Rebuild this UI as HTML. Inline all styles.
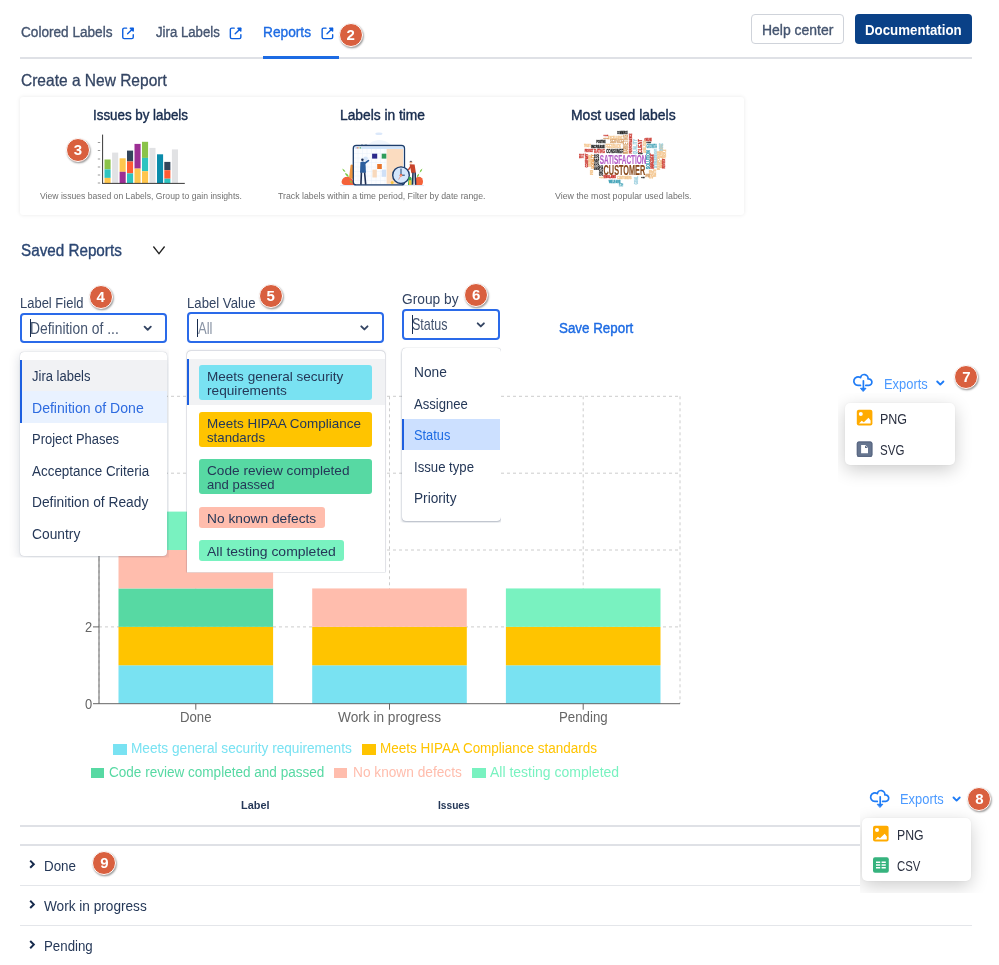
<!DOCTYPE html>
<html lang="en"><head><meta charset="utf-8"><title>Reports</title>
<style>
html,body{margin:0;padding:0;background:#fff}
body{width:999px;height:965px;position:relative;overflow:hidden;font-family:"Liberation Sans",sans-serif}
.a{position:absolute}
.t{position:absolute;white-space:pre;line-height:1;transform-origin:0 50%;display:inline-block}
.badge{position:absolute;width:22px;height:22px;border-radius:50%;background:#d9603f;border:1.6px solid #fff;box-shadow:.8px 1.2px 1.8px rgba(0,0,0,.38);color:#fff;font-weight:700;font-size:15px;line-height:22px;text-align:center;margin:-12.6px 0 0 -12.6px}
.sel{position:absolute;box-sizing:border-box;border:2px solid #2a6ae9;border-radius:4px;background:#fff}
.dd{position:absolute;background:#fff;border-radius:4px;box-shadow:0 0 1px rgba(9,30,66,.35),0 4px 8px -2px rgba(9,30,66,.25)}
.chip{position:absolute;border-radius:3px}
.hl{position:absolute;background:#dfe1e6}

</style></head>
<body>
<!-- tabs -->
<div class="hl" style="left:20px;top:56.5px;width:952px;height:2px"></div>
<div class="a" style="left:263px;top:56px;width:76px;height:3px;background:#1d6be3"></div>
<div class="a" style="left:751px;top:14px;width:93px;height:30px;box-sizing:border-box;border:1px solid #cfd3da;border-radius:4px"></div>
<div class="a" style="left:855px;top:14px;width:117px;height:30px;border-radius:4px;background:#0a4187"></div>
<!-- cards -->
<div class="a" style="left:20px;top:96.5px;width:724px;height:118px;background:#fff;border-radius:3px;box-shadow:0 0 4px rgba(0,0,0,.09)"></div>
<svg class="a" style="left:90px;top:130px" width="110" height="60" viewBox="90 130 110 60">
<rect x="104.5" y="159.5" width="6.1" height="9.9" fill="#8bc34a"/>
<rect x="104.5" y="169.4" width="6.1" height="8.5" fill="#2ec4c0"/>
<rect x="104.5" y="177.9" width="6.1" height="5.3" fill="#ffc64d"/>
<rect x="112.1" y="152.6" width="6.1" height="30.6" fill="#e1e2e4"/>
<rect x="119.6" y="158.3" width="6.1" height="13.5" fill="#ffc64d"/>
<rect x="119.6" y="171.8" width="6.1" height="11.4" fill="#9c2f94"/>
<rect x="127.0" y="150.6" width="6.1" height="10.9" fill="#33445a"/>
<rect x="127.0" y="161.5" width="6.1" height="11.9" fill="#ff5b33"/>
<rect x="127.0" y="173.4" width="6.1" height="9.8" fill="#2ec4c0"/>
<rect x="134.5" y="143.9" width="6.1" height="24.7" fill="#9c2f94"/>
<rect x="134.5" y="168.6" width="6.1" height="14.6" fill="#ffc64d"/>
<rect x="142.0" y="141.8" width="6.1" height="16.1" fill="#8bc34a"/>
<rect x="142.0" y="157.9" width="6.1" height="13.3" fill="#2ec4c0"/>
<rect x="142.0" y="171.2" width="6.1" height="12.0" fill="#ffc64d"/>
<rect x="149.4" y="147.9" width="6.1" height="35.3" fill="#e1e2e4"/>
<rect x="157.0" y="154.3" width="6.1" height="28.9" fill="#0a8cab"/>
<rect x="164.3" y="161.9" width="6.1" height="8.3" fill="#33445a"/>
<rect x="164.3" y="170.2" width="6.1" height="8.5" fill="#ff5b33"/>
<rect x="164.3" y="178.7" width="6.1" height="4.5" fill="#2ec4c0"/>
<rect x="171.9" y="149.4" width="6.1" height="33.8" fill="#e1e2e4"/>
<path d="M102.6 134.6V183.5M102.2 183.4H184.8" stroke="#222" stroke-width="0.9" fill="none"/>
<rect x="97.8" y="182.5" width="2.4" height="1" fill="#999"/>
<rect x="97.8" y="174.5" width="2.4" height="1" fill="#999"/>
<rect x="97.8" y="166.5" width="2.4" height="1" fill="#999"/>
<rect x="97.8" y="158.5" width="2.4" height="1" fill="#999"/>
<rect x="97.8" y="150.0" width="2.4" height="1" fill="#999"/>
<rect x="97.8" y="142.0" width="2.4" height="1" fill="#999"/>
</svg>
<svg class="a" style="left:330px;top:128px" width="110" height="62" viewBox="330 128 110 62">
<ellipse cx="378.9" cy="133.8" rx="3.6" ry="1.2" fill="#dbe8fa"/>
<path d="M366 146Q379 134 393 146Z" fill="#f1f6fd"/>
<path d="M340 185.6H424" stroke="#dfe8f6" stroke-width="1"/>
<!-- left foliage -->
<path d="M341.6 181.5Q342.5 176.5 348 176.8Q353.5 177.5 354 185H345Q341.5 184.6 341.6 181.5Z" fill="#f4623a"/>
<path d="M349 178L350.6 165Q352 163.6 353.6 165.5V179Z" fill="#f0963e"/>
<path d="M342.2 168.4Q345 169.4 345.6 172.2Q342.8 171.6 342.2 168.4ZM345 173Q348.2 173.6 348.8 177Q345.6 176.2 345 173ZM349.5 180Q352 180.6 352.5 183.6Q349.9 183 349.5 180Z" fill="#7ac943"/>
<!-- right foliage -->
<path d="M416 178Q419 175.6 422 178.2Q424 181.5 422 185H415Z" fill="#f4623a"/>
<path d="M422.4 168.6Q422.2 171.6 419.6 172.8Q419.6 169.8 422.4 168.6ZM419.2 173.4Q419.2 176.2 416.8 177.4Q416.6 174.6 419.2 173.4Z" fill="#7ac943"/>
<!-- tablet -->
<rect x="353.3" y="145.5" width="51.2" height="39.4" rx="3" fill="#fcfdff" stroke="#1d3d6b" stroke-width="1.3"/>
<path d="M361 145.2h2.2M364.6 145.2h2.6" stroke="#1d3d6b" stroke-width="1"/>
<rect x="386.6" y="148.8" width="16.4" height="35" fill="#fbdcc0"/>
<rect x="354.6" y="146.6" width="48.6" height="2.3" fill="#cfe4fb"/>
<circle cx="357.2" cy="147.8" r=".6" fill="#e8452f"/><circle cx="358.8" cy="147.8" r=".6" fill="#f5b82e"/><circle cx="360.4" cy="147.8" r=".6" fill="#3fae49"/>
<path d="M358 149V184M362.5 149V184M367 149V184M371.5 149V184M376 149V184M380.5 149V184M385 149V184M354 153.5H386M354 158H386M354 162.5H386M354 167H386M354 171.5H386M354 176H386M354 180.5H386" stroke="#e9f0fa" stroke-width=".5"/>
<rect x="372.1" y="153.7" width="5.1" height="4.9" fill="#2b2a8c"/>
<rect x="381.7" y="153.7" width="4.6" height="4.9" fill="#2e9d5b"/>
<rect x="377.2" y="164" width="4.6" height="5" fill="#e8742a"/>
<rect x="372.5" y="169.6" width="4.3" height="7.9" fill="#f8d9bc"/>
<rect x="381.7" y="169.6" width="4.4" height="7.2" fill="#cfe0f7"/>
<!-- person left -->
<circle cx="365.6" cy="158.6" r="2.2" fill="#d6e6fa"/>
<path d="M364.8 163.2L368.4 160.6" stroke="#2d5f9e" stroke-width="1.7" stroke-linecap="round"/>
<path d="M360.4 162.2Q362.8 160.6 365.4 162.2L366 172.8H360Z" fill="#2d5f9e"/>
<circle cx="362.4" cy="159.8" r="1.25" fill="#1d2f55"/>
<path d="M361.4 172.5L360.9 184.6M364.6 172.5L365.7 184.6" stroke="#1d2f55" stroke-width="1.6"/>
<!-- clock -->
<circle cx="401" cy="175.2" r="8.3" fill="#d4e6fc" stroke="#1d3d6b" stroke-width="1.4"/>
<path d="M401 175.2V168.6M401 175.2H404.8" stroke="#1d3d6b" stroke-width="1"/>
<path d="M401 175.2L398.6 179.6" stroke="#f4623a" stroke-width=".5"/>
<circle cx="401" cy="175.2" r="1.3" fill="#f4623a"/><circle cx="401" cy="175.2" r=".5" fill="#fff"/>
<circle cx="392.2" cy="182.6" r="1.5" fill="#f6c543"/>
<!-- person right -->
<path d="M408.6 177.5Q410 176 411.6 178V185H408Z" fill="#3fae49"/>
<path d="M409 180.5Q410.4 179.5 411.4 181V185H409Z" fill="#f6c543"/>
<path d="M409.6 164.2L414.6 164.6L415.9 172.8L411.4 173.2Z" fill="#c8432b"/>
<path d="M411 166L408.6 169.6" stroke="#c8432b" stroke-width="1.5" stroke-linecap="round"/>
<circle cx="410.9" cy="162.3" r="1.3" fill="#e8b48e"/><path d="M409.5 161.8Q410.8 160 412.4 161.6Z" fill="#1d2f55"/>
<path d="M413 172.6L412.6 184.8M415.1 172.6L415.6 184.8" stroke="#1d2f55" stroke-width="1.6"/>
</svg>

<svg class="a" style="left:570px;top:128px" width="110" height="62" viewBox="570 128 110 62" font-family="Liberation Sans, sans-serif" font-weight="700">
<text x="599.7" y="164.0" font-size="12.72" textLength="46.8" lengthAdjust="spacingAndGlyphs" fill="#b45cc6" stroke="#b45cc6" stroke-width="0.12">SATISFACTION</text>
<text x="603.6" y="175.1" font-size="14.54" textLength="41.6" lengthAdjust="spacingAndGlyphs" fill="#8a4a1c" stroke="#8a4a1c" stroke-width="0.12">CUSTOMER</text>
<text x="606.2" y="153.0" font-size="5.45" textLength="17.6" lengthAdjust="spacingAndGlyphs" fill="#222" stroke="#222" stroke-width="0.3">CONSUMER</text>
<text x="594.1" y="153.0" font-size="5.45" textLength="10.8" lengthAdjust="spacingAndGlyphs" fill="#c9332b" stroke="#c9332b" stroke-width="0.3">RATING</text>
<text x="605.5" y="148.2" font-size="5.45" textLength="15.6" lengthAdjust="spacingAndGlyphs" fill="#f3c48c" stroke="#f3c48c" stroke-width="0.3">FEEDBACK</text>
<text x="610.1" y="143.2" font-size="5.45" textLength="13.0" lengthAdjust="spacingAndGlyphs" fill="#d6a06a" stroke="#d6a06a" stroke-width="0.3">SERVICE</text>
<text x="608.1" y="138.5" font-size="4.00" textLength="14.3" lengthAdjust="spacingAndGlyphs" fill="#f3c48c" stroke="#f3c48c" stroke-width="0.3">EXCELLENT</text>
<text x="617.3" y="134.1" font-size="2.73" textLength="10.4" lengthAdjust="spacingAndGlyphs" fill="#222" stroke="#222" stroke-width="0.3">COMMERCE</text>
<text x="596.4" y="143.2" font-size="2.73" textLength="9.1" lengthAdjust="spacingAndGlyphs" fill="#222" stroke="#222" stroke-width="0.3">POSITIVE</text>
<text x="591.2" y="147.9" font-size="2.91" textLength="13.7" lengthAdjust="spacingAndGlyphs" fill="#222" stroke="#222" stroke-width="0.3">INCREASE</text>
<text x="584.7" y="151.7" font-size="2.73" textLength="8.5" lengthAdjust="spacingAndGlyphs" fill="#c9332b" stroke="#c9332b" stroke-width="0.3">PRODUCT</text>
<text x="584.1" y="147.4" font-size="3.09" textLength="6.5" lengthAdjust="spacingAndGlyphs" fill="#f3c48c" stroke="#f3c48c" stroke-width="0.3">TRUST</text>
<text x="603.6" y="135.9" font-size="2.54" textLength="4.6" lengthAdjust="spacingAndGlyphs" fill="#c9332b" stroke="#c9332b" stroke-width="0.3">VALUE</text>
<text x="603.6" y="139.1" font-size="2.36" textLength="5.2" lengthAdjust="spacingAndGlyphs" fill="#d6a06a" stroke="#d6a06a" stroke-width="0.3">SUPPORT</text>
<text transform="translate(628.3 154.3) rotate(-90)" font-size="6.36" textLength="19.5" lengthAdjust="spacingAndGlyphs" fill="#d6a06a" stroke="#d6a06a" stroke-width="0.3">MARKETING</text>
<text transform="translate(631.8 153.6) rotate(-90)" font-size="4.00" textLength="20.2" lengthAdjust="spacingAndGlyphs" fill="#c9332b" stroke="#c9332b" stroke-width="0.3">PERFORMANCE</text>
<text transform="translate(636.8 154.3) rotate(-90)" font-size="5.09" textLength="15.0" lengthAdjust="spacingAndGlyphs" fill="#9fd0df" stroke="#9fd0df" stroke-width="0.3">QUALITY</text>
<text transform="translate(642.0 153.0) rotate(-90)" font-size="6.00" textLength="13.7" lengthAdjust="spacingAndGlyphs" fill="#c9332b" stroke="#c9332b" stroke-width="0.3">CLIENT</text>
<text x="638.1" y="154.1" font-size="2.18" textLength="4.6" lengthAdjust="spacingAndGlyphs" fill="#222" stroke="#222" stroke-width="0.3">SURVEY</text>
<text transform="translate(599.0 169.9) rotate(-90)" font-size="6.36" textLength="15.6" lengthAdjust="spacingAndGlyphs" fill="#222" stroke="#222" stroke-width="0.3">BUSINESS</text>
<text transform="translate(594.1 168.6) rotate(-90)" font-size="4.00" textLength="14.3" lengthAdjust="spacingAndGlyphs" fill="#e89a4a" stroke="#e89a4a" stroke-width="0.3">LOYALTY</text>
<text transform="translate(591.0 166.6) rotate(-90)" font-size="3.63" textLength="11.7" lengthAdjust="spacingAndGlyphs" fill="#f3c48c" stroke="#f3c48c" stroke-width="0.3">RESEARCH</text>
<text transform="translate(588.0 167.3) rotate(-90)" font-size="3.63" textLength="13.7" lengthAdjust="spacingAndGlyphs" fill="#c9332b" stroke="#c9332b" stroke-width="0.3">COMPANY</text>
<text x="578.9" y="158.2" font-size="4.91" textLength="5.2" lengthAdjust="spacingAndGlyphs" fill="#c9332b" stroke="#c9332b" stroke-width="0.3">BEST</text>
<text transform="translate(602.9 175.7) rotate(-90)" font-size="5.45" textLength="10.4" lengthAdjust="spacingAndGlyphs" fill="#222" stroke="#222" stroke-width="0.3">SUCCESS</text>
<text transform="translate(592.5 175.1) rotate(-90)" font-size="3.27" textLength="5.2" lengthAdjust="spacingAndGlyphs" fill="#f3c48c" stroke="#f3c48c" stroke-width="0.3">OPINION</text>
<text transform="translate(650.0 169.2) rotate(-90)" font-size="4.91" textLength="18.9" lengthAdjust="spacingAndGlyphs" fill="#3a9fb5" stroke="#3a9fb5" stroke-width="0.3">SOLUTION</text>
<text transform="translate(653.9 168.6) rotate(-90)" font-size="4.54" textLength="15.0" lengthAdjust="spacingAndGlyphs" fill="#c9332b" stroke="#c9332b" stroke-width="0.3">MANAGEMENT</text>
<text transform="translate(656.9 167.9) rotate(-90)" font-size="3.45" textLength="18.9" lengthAdjust="spacingAndGlyphs" fill="#9fd0df" stroke="#9fd0df" stroke-width="0.3">STRATEGY</text>
<text transform="translate(659.9 169.9) rotate(-90)" font-size="3.63" textLength="18.9" lengthAdjust="spacingAndGlyphs" fill="#f3c48c" stroke="#f3c48c" stroke-width="0.3">RESPONSE</text>
<text transform="translate(662.5 167.9) rotate(-90)" font-size="3.27" textLength="23.4" lengthAdjust="spacingAndGlyphs" fill="#f3c48c" stroke="#f3c48c" stroke-width="0.3">RELATION</text>
<text transform="translate(665.4 168.6) rotate(-90)" font-size="3.63" textLength="9.8" lengthAdjust="spacingAndGlyphs" fill="#c9332b" stroke="#c9332b" stroke-width="0.3">REVIEW</text>
<text transform="translate(666.4 158.2) rotate(-90)" font-size="3.27" textLength="8.5" lengthAdjust="spacingAndGlyphs" fill="#f3c48c" stroke="#f3c48c" stroke-width="0.3">PEOPLE</text>
<text x="646.5" y="147.8" font-size="5.45" textLength="10.4" lengthAdjust="spacingAndGlyphs" fill="#3a9fb5" stroke="#3a9fb5" stroke-width="0.3">GROWTH</text>
<text x="644.6" y="140.6" font-size="2.73" textLength="7.2" lengthAdjust="spacingAndGlyphs" fill="#c9332b" stroke="#c9332b" stroke-width="0.3">ONLINE</text>
<text x="646.5" y="143.0" font-size="2.36" textLength="4.6" lengthAdjust="spacingAndGlyphs" fill="#222" stroke="#222" stroke-width="0.3">MARKET</text>
<text transform="translate(646.1 153.0) rotate(-90)" font-size="4.00" textLength="12.4" lengthAdjust="spacingAndGlyphs" fill="#f3c48c" stroke="#f3c48c" stroke-width="0.3">ANALYSIS</text>
<text transform="translate(663.4 151.0) rotate(-90)" font-size="4.54" textLength="7.8" lengthAdjust="spacingAndGlyphs" fill="#9fd0df" stroke="#9fd0df" stroke-width="0.3">SATISFIED</text>
<text x="603.6" y="178.4" font-size="2.73" textLength="12.4" lengthAdjust="spacingAndGlyphs" fill="#c9332b" stroke="#c9332b" stroke-width="0.3">ENGLAND</text>
<text x="617.3" y="178.6" font-size="3.09" textLength="14.3" lengthAdjust="spacingAndGlyphs" fill="#f3c48c" stroke="#f3c48c" stroke-width="0.3">CUSTOMERS</text>
<text x="608.8" y="182.6" font-size="2.73" textLength="11.7" lengthAdjust="spacingAndGlyphs" fill="#3a9fb5" stroke="#3a9fb5" stroke-width="0.3">WELFARE</text>
<text transform="translate(638.1 184.2) rotate(-90)" font-size="4.54" textLength="7.8" lengthAdjust="spacingAndGlyphs" fill="#9fd0df" stroke="#9fd0df" stroke-width="0.3">GOAL</text>
<text transform="translate(623.1 186.2) rotate(-90)" font-size="5.45" textLength="3.3" lengthAdjust="spacingAndGlyphs" fill="#3a9fb5" stroke="#3a9fb5" stroke-width="0.3">HELP</text>
<text transform="translate(653.0 178.4) rotate(-90)" font-size="4.54" textLength="8.5" lengthAdjust="spacingAndGlyphs" fill="#f3c48c" stroke="#f3c48c" stroke-width="0.3">SHOP</text>
<text transform="translate(656.3 177.0) rotate(-90)" font-size="3.63" textLength="7.8" lengthAdjust="spacingAndGlyphs" fill="#f3c48c" stroke="#f3c48c" stroke-width="0.3">RATE</text>
<text x="645.2" y="177.0" font-size="2.73" textLength="4.6" lengthAdjust="spacingAndGlyphs" fill="#d6a06a" stroke="#d6a06a" stroke-width="0.3">OFFER</text>
<text x="641.3" y="177.7" font-size="2.36" textLength="3.3" lengthAdjust="spacingAndGlyphs" fill="#222" stroke="#222" stroke-width="0.3">CARE</text>
<text x="599.0" y="178.1" font-size="2.36" textLength="4.6" lengthAdjust="spacingAndGlyphs" fill="#f3c48c" stroke="#f3c48c" stroke-width="0.3">SALES</text>
</svg>
<!-- chart -->
<svg class="a" style="left:0;top:380px" width="720" height="340" viewBox="0 380 720 340">
<path d="M99.0 626.9H680.0 M99.0 550.0H680.0 M99.0 473.2H680.0 M99.0 396.3H680.0 M99.0 396.3V703.7 M195.8 396.3V703.7 M389.5 396.3V703.7 M583.2 396.3V703.7 M680.0 396.3V703.7" stroke="#ccc" stroke-width="1" stroke-dasharray="3 3" fill="none"/>
<rect x="118.5" y="665.28" width="154.6" height="38.42" fill="#79e2f2"/>
<rect x="118.5" y="626.86" width="154.6" height="38.42" fill="#ffc400"/>
<rect x="118.5" y="588.44" width="154.6" height="38.42" fill="#57d9a3"/>
<rect x="118.5" y="550.02" width="154.6" height="38.42" fill="#ffbdad"/>
<rect x="118.5" y="511.60" width="154.6" height="38.42" fill="#79f2c0"/>
<rect x="312.2" y="665.28" width="154.6" height="38.42" fill="#79e2f2"/>
<rect x="312.2" y="626.86" width="154.6" height="38.42" fill="#ffc400"/>
<rect x="312.2" y="588.44" width="154.6" height="38.42" fill="#ffbdad"/>
<rect x="505.9" y="665.28" width="154.6" height="38.42" fill="#79e2f2"/>
<rect x="505.9" y="626.86" width="154.6" height="38.42" fill="#ffc400"/>
<rect x="505.9" y="588.44" width="154.6" height="38.42" fill="#79f2c0"/>
<path d="M99.0 396.3V703.7 M99.0 703.7H680.0 M195.8 703.7v6 M389.5 703.7v6 M583.2 703.7v6 M93.0 703.7h6 M93.0 626.9h6" stroke="#666" stroke-width="1" fill="none"/>
</svg>
<div class="a" style="left:113px;top:744.3px;width:13.7px;height:10.4px;background:#79e2f2"></div>
<div class="a" style="left:362.3px;top:744.3px;width:13.7px;height:10.4px;background:#ffc400"></div>
<div class="a" style="left:90.5px;top:767.8px;width:13.7px;height:10.4px;background:#57d9a3"></div>
<div class="a" style="left:333.8px;top:767.8px;width:13.7px;height:10.4px;background:#ffbdad"></div>
<div class="a" style="left:472.2px;top:767.8px;width:13.7px;height:10.4px;background:#79f2c0"></div>
<!-- table lines -->
<div class="hl" style="left:20px;top:824.5px;width:952px;height:2px"></div>
<div class="hl" style="left:20px;top:843.5px;width:952px;height:2px"></div>
<div class="hl" style="left:20px;top:884.5px;width:952px;height:1px;background:#e4e6ea"></div>
<div class="hl" style="left:20px;top:924.5px;width:952px;height:1px;background:#e4e6ea"></div>
<!-- selects -->
<div class="sel" style="left:20px;top:312.5px;width:147px;height:30.5px"></div>
<div class="sel" style="left:187px;top:312px;width:196.5px;height:30.5px"></div>
<div class="sel" style="left:402px;top:309px;width:98px;height:30.5px"></div>
<div class="a" style="left:29.6px;top:318.7px;width:1.2px;height:18.5px;background:#172b4d"></div>
<div class="a" style="left:197px;top:318.5px;width:1.2px;height:18.5px;background:#172b4d"></div>
<div class="a" style="left:412px;top:315px;width:1.2px;height:18.5px;background:#172b4d"></div>
<!-- dropdown 1 -->
<div class="dd" style="left:20px;top:351.5px;width:147px;height:204.5px;box-shadow:0 0 1px rgba(9,30,66,.35),0 3px 12px rgba(9,30,66,.17);clip-path:inset(-3px -2px -1.5px -12px)"></div>
<div class="a" style="left:20px;top:359.5px;width:147px;height:31.8px;background:#f1f2f4"></div>
<div class="a" style="left:20px;top:391.3px;width:147px;height:31.3px;background:#e9f2ff"></div>
<div class="a" style="left:20px;top:359.5px;width:2px;height:63px;background:#1d5fe0"></div>
<!-- dropdown 2 -->
<div class="a" style="left:187px;top:350.5px;width:197.5px;height:222px;background:#fff;border-radius:4px 4px 0 0;box-shadow:0 0 0 1px rgba(9,30,66,.07),0 0 1px rgba(9,30,66,.3),0 -1px 3px rgba(9,30,66,.08);clip-path:inset(-6px -6px 0 -6px)"></div>
<div class="a" style="left:187px;top:359.2px;width:197.5px;height:46.2px;background:#f1f2f4"></div>
<div class="a" style="left:187px;top:359.2px;width:2px;height:46.2px;background:#1d5fe0"></div>
<div class="chip" style="left:198.7px;top:364.9px;width:173.3px;height:34.8px;background:#79e2f2"></div>
<div class="chip" style="left:198.7px;top:412.2px;width:173.3px;height:34.8px;background:#ffc400"></div>
<div class="chip" style="left:198.7px;top:459.4px;width:173.3px;height:34.8px;background:#57d9a3"></div>
<div class="chip" style="left:198.7px;top:506.7px;width:126.1px;height:21.1px;background:#ffbdad"></div>
<div class="chip" style="left:198.7px;top:540.3px;width:145.4px;height:21.1px;background:#79f2c0"></div>
<!-- dropdown 3 -->
<div class="dd" style="left:402px;top:347.5px;width:98.5px;height:173px;box-shadow:0 0 1px rgba(9,30,66,.4),0 2px 3px rgba(9,30,66,.25);clip-path:inset(-2px -.5px -2px -2px)"></div>
<div class="a" style="left:402px;top:418.8px;width:98px;height:31px;background:#cce0ff"></div>
<div class="a" style="left:402px;top:418.8px;width:2px;height:31px;background:#1d5fe0"></div>
<!-- exports 7 -->
<div class="a" style="left:838px;top:393px;width:137px;height:102px;overflow:hidden">
  <div class="a" style="left:7px;top:9.5px;width:109.5px;height:62.5px;border-radius:5px;background:#fff;box-shadow:0 5px 18px rgba(0,0,0,.2),0 0 2px rgba(0,0,0,.06)"></div>
</div>
<!-- exports 8 -->
<div class="a" style="left:860px;top:806px;width:130px;height:87px;overflow:hidden;background:#fff">
  <div class="a" style="left:1.5px;top:12px;width:109.5px;height:62.5px;border-radius:5px;background:#fff;box-shadow:0 5px 18px rgba(0,0,0,.2),0 0 2px rgba(0,0,0,.06)"></div>
</div>
<svg class="a" style="left:0;top:0" width="999" height="965" viewBox="0 0 999 965" fill="none">
<defs>
<g id="ext" stroke="#0c5fdf" stroke-width="1.4" stroke-linecap="round" stroke-linejoin="round" fill="none"><path d="M4.6 .75H2.2A1.45 1.45 0 0 0 .75 2.2V9.8A1.45 1.45 0 0 0 2.2 11.25H9.8A1.45 1.45 0 0 0 11.25 9.8V7.4"/><path d="M5.6 6.4L11 1"/><path d="M8.3 .8H11.2V3.7Z" fill="#0c5fdf"/></g>
<g id="chev" stroke-width="1.9" stroke-linecap="round" stroke-linejoin="round" fill="none"><path d="M.9 .9L4 4L7.1 .9"/></g>
<g id="cloud" stroke="#1f7cf6" stroke-width="1.7" stroke-linecap="round" stroke-linejoin="round" fill="none"><path d="M7.5 11.6H5.1A4.25 4.25 0 1 1 7.53 3.87A3.8 3.8 0 0 1 15.02 5.17A3.25 3.25 0 1 1 15.9 11.6H12.8"/><path d="M10.4 7V14.6"/><path d="M7.8 14.5H13L10.4 17.4Z" fill="#1f7cf6" stroke-width="1"/></g>
<g id="png"><rect width="15.6" height="15.8" rx="2" fill="#ffab00"/><circle cx="4" cy="4.2" r="2" fill="#fff"/><path d="M2.2 13.8L4.9 11L7 12.4L11.7 8L13.8 10.6V13.8Z" fill="#fff"/></g>
<g id="svgi"><rect width="15.6" height="15.4" rx="2" fill="#66758f"/><rect x=".6" y=".6" width="14.4" height="14.2" rx="1.6" fill="none" stroke="#5a6883" stroke-width="1.2"/><path d="M4.3 3.6H8.6L11.2 6.2V11.7H4.3Z" fill="#fff"/><path d="M8.2 3.9V6.6H11Z" fill="#5a6883"/></g>
<g id="csv"><rect width="15.8" height="15.4" rx="2" fill="#36b37e"/><path d="M3 4.9H7.2M8.6 4.9H12.8M3 7.7H7.2M8.6 7.7H12.8M3 10.5H7.2M8.6 10.5H12.8" stroke="#fff" stroke-width="1.5"/></g>
</defs>
<use href="#ext" x="122" y="27.4"/><use href="#ext" x="229.6" y="27.4"/><use href="#ext" x="321.4" y="27.4"/>
<path d="M153.4 246.5L159 253.6L164.6 246.5" stroke="#222" stroke-width="1.3" fill="none"/>
<use href="#chev" x="143.7" y="325.8" stroke="#344563"/><use href="#chev" x="360.4" y="325.4" stroke="#344563"/><use href="#chev" x="476.8" y="322.4" stroke="#344563"/>
<use href="#cloud" x="853" y="373.8"/><use href="#chev" x="936.3" y="380.6" stroke="#1f7cf6"/>
<use href="#cloud" x="869.8" y="789.8"/><use href="#chev" x="952.6" y="796.6" stroke="#1f7cf6"/>
<use href="#png" x="856.8" y="409.8"/><use href="#svgi" x="856.8" y="441.5"/>
<use href="#png" x="873" y="825.8"/><use href="#csv" x="873" y="857.3"/>
<g stroke="#172b4d" stroke-width="2" fill="none" stroke-linecap="butt" stroke-linejoin="miter"><path d="M30.2 860.6L33.8 864.2L30.2 867.8"/><path d="M30.2 900.8L33.8 904.4L30.2 908"/><path d="M30.2 941L33.8 944.6L30.2 948.2"/></g>
</svg>

<span class="t" style="left:20.50px;top:25.00px;font-size:14px;color:#44546f;transform:scaleX(0.9716);-webkit-text-stroke:0.35px #44546f">Colored Labels</span>
<span class="t" style="left:155.50px;top:25.00px;font-size:14px;color:#44546f;transform:scaleX(0.9416);-webkit-text-stroke:0.35px #44546f">Jira Labels</span>
<span class="t" style="left:263.25px;top:25.00px;font-size:14px;color:#1d6be3;transform:scaleX(0.9790);-webkit-text-stroke:0.35px #1d6be3">Reports</span>
<span class="t" style="left:762.00px;top:23.00px;font-size:14px;color:#44546f;transform:scaleX(0.9959);-webkit-text-stroke:0.35px #44546f">Help center</span>
<span class="t" style="left:865.00px;top:23.00px;font-size:14px;color:#ffffff;transform:scaleX(0.9491);font-weight:700">Documentation</span>
<span class="t" style="left:20.50px;top:72.00px;font-size:16.5px;color:#344563;transform:scaleX(0.9403);-webkit-text-stroke:0.3px #344563">Create a New Report</span>
<span class="t" style="left:93.00px;top:108.00px;font-size:14px;color:#172b4d;transform:scaleX(0.9537);-webkit-text-stroke:0.4px #172b4d">Issues by labels</span>
<span class="t" style="left:339.50px;top:108.00px;font-size:14px;color:#172b4d;transform:scaleX(0.9839);-webkit-text-stroke:0.4px #172b4d">Labels in time</span>
<span class="t" style="left:571.00px;top:108.00px;font-size:14px;color:#172b4d;transform:scaleX(0.9965);-webkit-text-stroke:0.4px #172b4d">Most used labels</span>
<span class="t" style="left:40.00px;top:192.00px;font-size:9px;color:#707070;transform:scaleX(0.9575)">View issues based on Labels, Group to gain insights.</span>
<span class="t" style="left:278.00px;top:192.00px;font-size:9px;color:#707070;transform:scaleX(0.9730)">Track labels within a time period, Filter by date range.</span>
<span class="t" style="left:554.90px;top:192.00px;font-size:9px;color:#707070;transform:scaleX(0.9790)">View the most popular used labels.</span>
<span class="t" style="left:20.50px;top:243.00px;font-size:16px;color:#2b4672;transform:scaleX(0.9519);-webkit-text-stroke:0.35px #2b4672">Saved Reports</span>
<span class="t" style="left:20.00px;top:296.00px;font-size:14px;color:#344563;transform:scaleX(0.9270)">Label Field</span>
<span class="t" style="left:187.00px;top:296.00px;font-size:14px;color:#344563;transform:scaleX(0.9394)">Label Value</span>
<span class="t" style="left:402.10px;top:292.00px;font-size:14px;color:#344563;transform:scaleX(0.9827)">Group by</span>
<span class="t" style="left:30.00px;top:321.00px;font-size:15.7px;color:#44546f;transform:scaleX(0.8850)">Definition of ...</span>
<span class="t" style="left:197.50px;top:321.00px;font-size:15.7px;color:#8993a4;transform:scaleX(0.8315)">All</span>
<span class="t" style="left:412.40px;top:317.00px;font-size:15.7px;color:#44546f;transform:scaleX(0.8003)">Status</span>
<span class="t" style="left:559.00px;top:321.00px;font-size:14px;color:#1d6be3;transform:scaleX(0.9547);-webkit-text-stroke:0.4px #1d6be3">Save Report</span>
<span class="t" style="left:31.50px;top:369.00px;font-size:14px;color:#253858;transform:scaleX(0.9281)">Jira labels</span>
<span class="t" style="left:31.50px;top:401.00px;font-size:14px;color:#2d6be0;transform:scaleX(1.0036)">Definition of Done</span>
<span class="t" style="left:31.50px;top:432.00px;font-size:14px;color:#253858;transform:scaleX(0.9249)">Project Phases</span>
<span class="t" style="left:31.50px;top:464.00px;font-size:14px;color:#253858;transform:scaleX(0.9593)">Acceptance Criteria</span>
<span class="t" style="left:31.50px;top:495.00px;font-size:14px;color:#253858;transform:scaleX(0.9831)">Definition of Ready</span>
<span class="t" style="left:31.50px;top:527.00px;font-size:14px;color:#253858;transform:scaleX(0.9851)">Country</span>
<span class="t" style="left:207.20px;top:370.00px;font-size:13.3px;color:#253858;transform:scaleX(1.0181)">Meets general security</span>
<span class="t" style="left:207.20px;top:384.00px;font-size:13.3px;color:#253858;transform:scaleX(1.0282)">requirements</span>
<span class="t" style="left:207.20px;top:417.00px;font-size:13.3px;color:#253858;transform:scaleX(1.0125)">Meets HIPAA Compliance</span>
<span class="t" style="left:207.20px;top:431.00px;font-size:13.3px;color:#253858;transform:scaleX(0.9948)">standards</span>
<span class="t" style="left:207.20px;top:464.00px;font-size:13.3px;color:#253858;transform:scaleX(1.0255)">Code review completed</span>
<span class="t" style="left:207.20px;top:478.00px;font-size:13.3px;color:#253858;transform:scaleX(0.9830)">and passed</span>
<span class="t" style="left:207.20px;top:512.00px;font-size:13.3px;color:#253858;transform:scaleX(1.0331)">No known defects</span>
<span class="t" style="left:207.20px;top:545.00px;font-size:13.3px;color:#253858;transform:scaleX(1.0497)">All testing completed</span>
<span class="t" style="left:414.30px;top:365.00px;font-size:14px;color:#253858;transform:scaleX(0.9800)">None</span>
<span class="t" style="left:414.30px;top:397.00px;font-size:14px;color:#253858;transform:scaleX(0.9341)">Assignee</span>
<span class="t" style="left:414.30px;top:428.00px;font-size:14px;color:#1d6be3;transform:scaleX(0.9143)">Status</span>
<span class="t" style="left:414.30px;top:460.00px;font-size:14px;color:#253858;transform:scaleX(0.9400)">Issue type</span>
<span class="t" style="left:414.30px;top:491.00px;font-size:14px;color:#253858;transform:scaleX(0.9756)">Priority</span>
<span class="t" style="left:883.80px;top:377.00px;font-size:14px;color:#4c9aff;transform:scaleX(0.9227)">Exports</span>
<span class="t" style="left:880.40px;top:412.00px;font-size:14px;color:#2a3040;transform:scaleX(0.8931)">PNG</span>
<span class="t" style="left:880.40px;top:443.00px;font-size:14px;color:#2a3040;transform:scaleX(0.8249)">SVG</span>
<span class="t" style="left:900.20px;top:792.00px;font-size:14px;color:#4c9aff;transform:scaleX(0.9206)">Exports</span>
<span class="t" style="left:897.00px;top:828.00px;font-size:14px;color:#2a3040;transform:scaleX(0.8766)">PNG</span>
<span class="t" style="left:897.00px;top:859.00px;font-size:14px;color:#2a3040;transform:scaleX(0.8126)">CSV</span>
<span class="t" style="left:180.00px;top:710.00px;font-size:14px;color:#666666;transform:scaleX(0.9412)">Done</span>
<span class="t" style="left:338.00px;top:710.00px;font-size:14px;color:#666666;transform:scaleX(0.9757)">Work in progress</span>
<span class="t" style="left:558.70px;top:710.00px;font-size:14px;color:#666666;transform:scaleX(0.9476)">Pending</span>
<span class="t" style="left:84.50px;top:697.00px;font-size:14px;color:#666666;transform:scaleX(0.9234)">0</span>
<span class="t" style="left:84.50px;top:620.00px;font-size:14px;color:#666666;transform:scaleX(0.9234)">2</span>
<span class="t" style="left:131.00px;top:741.00px;font-size:14px;color:#79e2f2;transform:scaleX(0.9751)">Meets general security requirements</span>
<span class="t" style="left:379.60px;top:741.00px;font-size:14px;color:#ffc400;transform:scaleX(0.9627)">Meets HIPAA Compliance standards</span>
<span class="t" style="left:108.50px;top:765.00px;font-size:14px;color:#57d9a3;transform:scaleX(0.9673)">Code review completed and passed</span>
<span class="t" style="left:352.60px;top:765.00px;font-size:14px;color:#ffbdad;transform:scaleX(0.9776)">No known defects</span>
<span class="t" style="left:489.50px;top:765.00px;font-size:14px;color:#79f2c0;transform:scaleX(0.9993)">All testing completed</span>
<span class="t" style="left:241.30px;top:800.00px;font-size:11px;color:#253858;transform:scaleX(0.9918);font-weight:700">Label</span>
<span class="t" style="left:438.00px;top:800.00px;font-size:11px;color:#253858;transform:scaleX(0.9255);font-weight:700">Issues</span>
<span class="t" style="left:44.25px;top:859.00px;font-size:14px;color:#253858;transform:scaleX(0.9561)">Done</span>
<span class="t" style="left:44.25px;top:899.00px;font-size:14px;color:#253858;transform:scaleX(0.9734)">Work in progress</span>
<span class="t" style="left:44.25px;top:939.00px;font-size:14px;color:#253858;transform:scaleX(0.9486)">Pending</span>
<!-- badges -->
<div class="badge" style="left:351.2px;top:35.5px">2</div>
<div class="badge" style="left:78.6px;top:151px">3</div>
<div class="badge" style="left:101.2px;top:297.9px">4</div>
<div class="badge" style="left:271.3px;top:296.3px">5</div>
<div class="badge" style="left:476.8px;top:295.8px">6</div>
<div class="badge" style="left:967px;top:377.8px">7</div>
<div class="badge" style="left:980px;top:799.4px">8</div>
<div class="badge" style="left:105px;top:863.3px">9</div>

</body></html>
